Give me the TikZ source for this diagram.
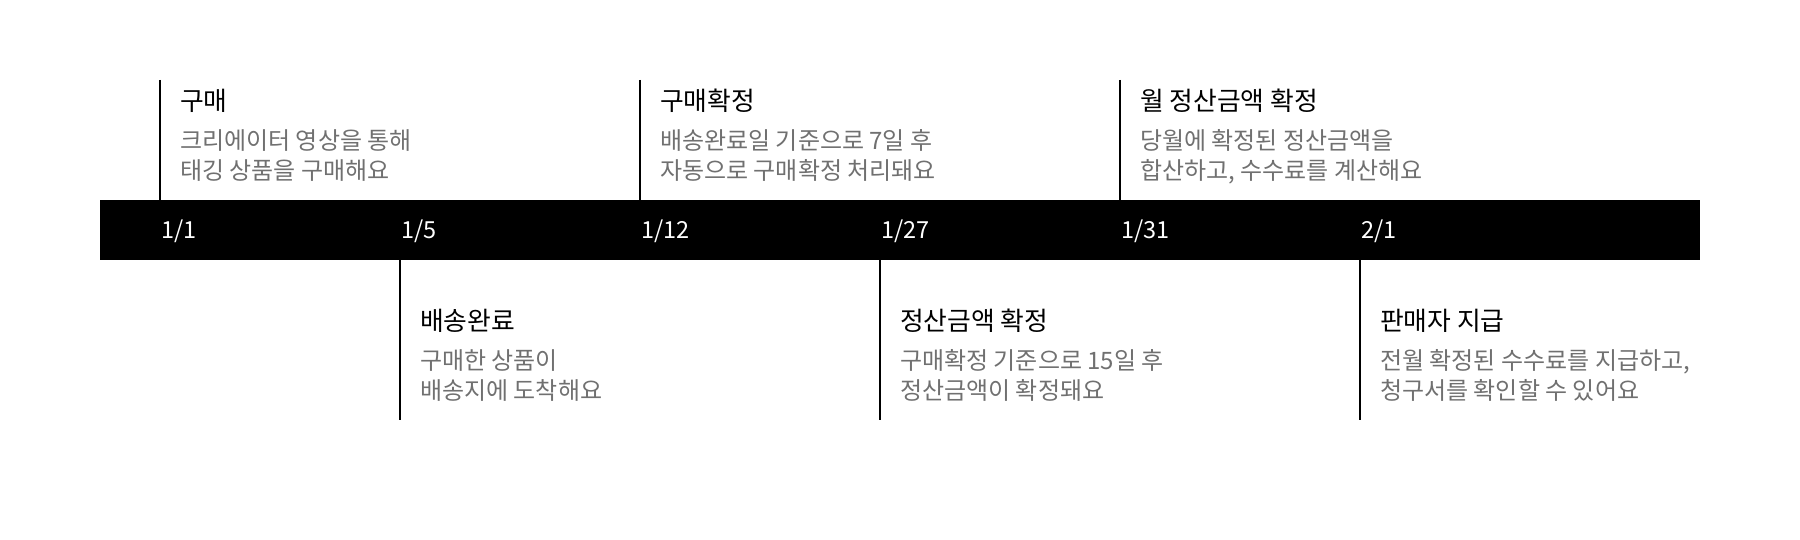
\documentclass[tikz,border=0pt]{standalone}
\usepackage{fontspec}
\setmainfont{Noto Sans CJK KR}
\definecolor{descgray}{HTML}{707070}
\tikzset{
  tl/.style={line width=2pt, draw=black},
  ttl/.style={anchor=west, inner sep=0pt, font=\fontsize{25.8}{30}\selectfont, text=black},
  dsc/.style={anchor=north west, inner sep=0pt, align=left, font=\fontsize{24}{30}\selectfont, text=descgray},
  dt/.style={anchor=west, inner sep=0pt, font=\fontsize{23.5}{26}\selectfont, text=white}
}
\begin{document}
\begin{tikzpicture}[x=1pt,y=-1pt]
\useasboundingbox (0,0) rectangle (1800,540);
\fill[black] (100,200) rectangle (1700,260);
% upper events
\foreach \n/\x in {a/160,c/640,e/1120}{
  \coordinate (\n top) at (\x,80);
  \coordinate (\n bar) at (\x,200);
  \draw[tl] (\n top) -- (\n bar);
}
\foreach \n/\x in {b/400,d/880,f/1360}{
  \coordinate (\n top) at (\x,260);
  \coordinate (\n bot) at (\x,420);
  \draw[tl] (\n top) -- (\n bot);
}
% dates
\node[dt] (da) at (161,231) {1/1};
\node[dt] (db) at (401,231) {1/5};
\node[dt] (dc) at (641,231) {1/12};
\node[dt] (dd) at (881,231) {1/27};
\node[dt] (de) at (1121,231) {1/31};
\node[dt] (df) at (1361,231) {2/1};
% titles
\node[ttl] (ta) at (180,101) {구매};
\node[ttl] (tc) at (660,101) {구매확정};
\node[ttl] (te) at (1140,101) {월 정산금액 확정};
\node[ttl] (tb) at (420,321) {배송완료};
\node[ttl] (td) at (900,321) {정산금액 확정};
\node[ttl] (tf) at (1380,321) {판매자 지급};
% descriptions
\node[dsc] (sa) at (180,129) {크리에이터 영상을 통해\\태깅 상품을 구매해요};
\node[dsc] (sc) at (660,129) {배송완료일 기준으로 7일 후\\자동으로 구매확정 처리돼요};
\node[dsc] (se) at (1140,129) {당월에 확정된 정산금액을\\합산하고, 수수료를 계산해요};
\node[dsc] (sb) at (420,349) {구매한 상품이\\배송지에 도착해요};
\node[dsc] (sd) at (900,349) {구매확정 기준으로 15일 후\\정산금액이 확정돼요};
\node[dsc] (sf) at (1380,349) {전월 확정된 수수료를 지급하고,\\청구서를 확인할 수 있어요};
\end{tikzpicture}
\end{document}
